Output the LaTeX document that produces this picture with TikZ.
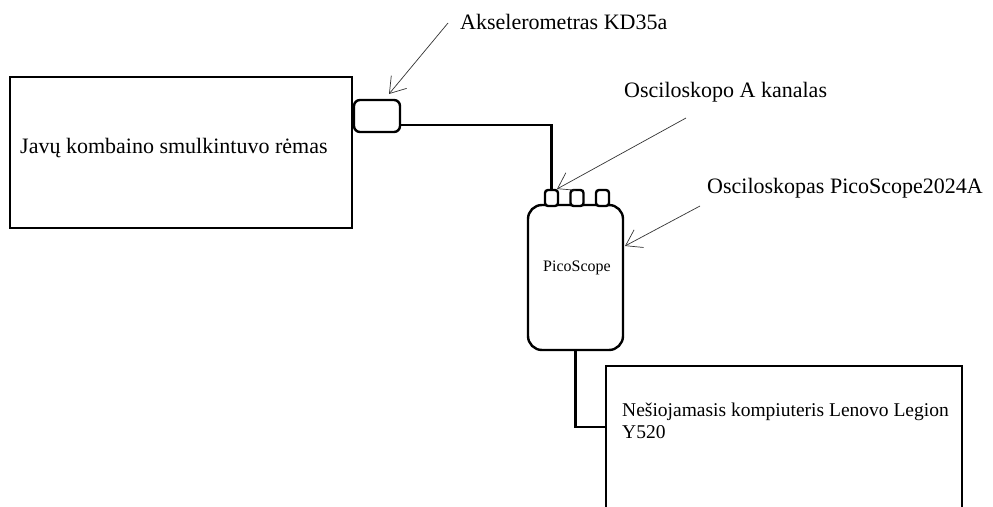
\documentclass[tikz,border=0pt]{standalone}
\usepackage{fontspec}
\setmainfont{Liberation Serif}
\usetikzlibrary{arrows.meta}
\begin{document}
\begin{tikzpicture}[x=1pt,y=-1pt,
 box/.style={draw, line width=2.4pt, inner sep=0pt},
 lbl/.style={anchor=west, font=\fontsize{22}{26}\selectfont, inner sep=0pt},
 wire/.style={line width=2.4pt},
 ptr/.style={draw=black!80, line width=0.7pt, -{Straight Barb[length=15pt,width=20pt,line width=0.7pt]}}]
\useasboundingbox (0,0) rectangle (993,506);
\clip (0,0) rectangle (993,506);
% frame
\node[box, minimum width=342pt, minimum height=151pt] (frame) at (181,152.5) {};
\node[lbl] (frametxt) at (20,148) {Javų kombaino smulkintuvo rėmas};
% accelerometer
\node[box, rounded corners=6pt, minimum width=46pt, minimum height=32pt] (acc) at (377,116) {};
% scope
\node[box, rounded corners=14pt, minimum width=95pt, minimum height=145pt] (scope) at (575.5,277.5) {};
\node[font=\fontsize{16}{18}\selectfont, inner sep=0pt] (scopetxt) at (577,268) {PicoScope};
\node[box, fill=white, rounded corners=3pt, minimum width=13pt, minimum height=16pt] (chA) at (551.5,198) {};
\node[box, fill=white, rounded corners=3pt, minimum width=13pt, minimum height=16pt] (chB) at (577,198) {};
\node[box, fill=white, rounded corners=3pt, minimum width=13pt, minimum height=16pt] (chC) at (602.5,198) {};
% laptop
\node[box, minimum width=356pt, minimum height=174pt] (laptop) at (784,453) {};
\node[anchor=west, align=left, font=\fontsize{19.5}{22}\selectfont, inner sep=0pt] (laptxt) at (622,421) {Nešiojamasis kompiuteris Lenovo Legion\\Y520};
% wires
\draw[wire] ([yshift=-9pt]acc.east) -| (chA.north);
\draw[wire] (scope.south) |- ([yshift=26pt]laptop.west);
% labels
\node[lbl] (labA) at (460,22) {Akselerometras KD35a};
\node[lbl] (labB) at (624,92) {Osciloskopo A kanalas};
\node[lbl] (labC) at (707,188) {Osciloskopas PicoScope2024A};
\coordinate (pA) at (448,23);
\coordinate (tA) at (389,94);
\coordinate (pB) at (686,118);
\coordinate (tB) at (557,189);
\coordinate (pC) at (700,206);
\coordinate (tC) at (625,246);
\draw[ptr] (pA) -- (tA);
\draw[ptr] (pB) -- (tB);
\draw[ptr] (pC) -- (tC);
\end{tikzpicture}
\end{document}
